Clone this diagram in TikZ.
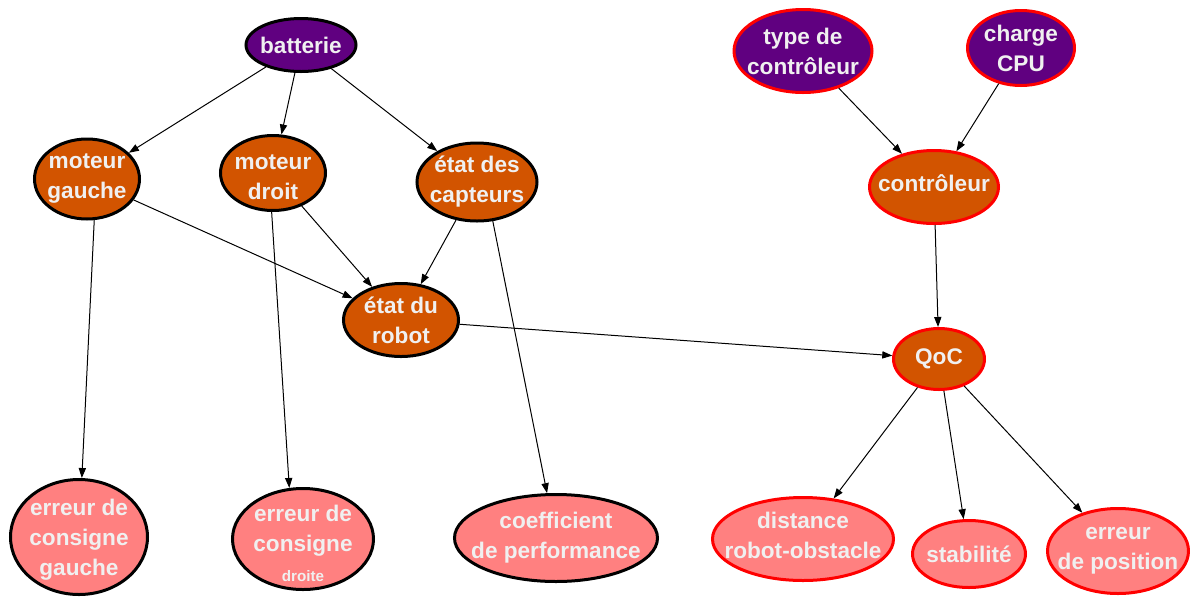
\documentclass[tikz,border=0pt]{standalone}
\usepackage{fontspec}
\setsansfont{Liberation Sans}
\usepackage{tikz}
\usetikzlibrary{%
	arrows.meta,%
	shapes.geometric,%
}
\definecolor{cviolet}{RGB}{96, 0, 128}
\definecolor{corange}{RGB}{210, 84, 0}
\definecolor{crose}{RGB}{255, 128, 128}
\definecolor{ctexte}{RGB}{240, 240, 240}
\tikzset{
	>={Triangle[length=5pt, width=3.6pt]},%
	bulle/.style={%
			ellipse,%
			draw,%
			line width=1.5pt,%
			inner sep=0pt},%
	racine/.style={bulle, fill=cviolet},%
	inter/.style={bulle, fill=corange},%
	feuille/.style={bulle, fill=crose},%
	rouge/.style={draw=red},%
	txt/.style={%
			text=ctexte,%
			align=center,%
			inner sep=0pt,%
			font={\sffamily\bfseries\fontsize{11.3}{15}\selectfont}},%
	lien/.style={->, line width=0.5pt},%
}
\newcommand{\petit}[1]{{\fontsize{7.6}{9}\selectfont #1}}

\begin{document}
\begin{tikzpicture}[x=0.5pt, y=-0.5pt]
	\useasboundingbox (0,0) rectangle (1190,596);

	% sources
	\node[racine, minimum width=55pt, minimum height=26.5pt, label={[txt]center:batterie}] (bat) at (301,45) {};
	\node[racine, rouge, minimum width=69pt, minimum height=41.5pt, label={[txt]center:{type de\\contrôleur}}] (type) at (803,51) {};
	\node[racine, rouge, minimum width=53.5pt, minimum height=37.5pt, label={[txt]center:{charge\\CPU}}] (cpu) at (1021,48) {};

	% noeuds intermediaires
	\node[inter, minimum width=52.5pt, minimum height=40pt, label={[txt]center:{moteur\\gauche}}] (mg) at (87,179) {};
	\node[inter, minimum width=52.5pt, minimum height=37.5pt, label={[txt, yshift=-2pt]center:{moteur\\droit}}] (md) at (273,173) {};
	\node[inter, minimum width=60pt, minimum height=39pt, label={[txt]center:{état des\\capteurs}}] (capt) at (477,182) {};
	\node[inter, minimum width=57.5pt, minimum height=36.5pt, label={[txt]center:{état du\\robot}}] (robot) at (401,320) {};
	\node[inter, rouge, minimum width=64.5pt, minimum height=36.5pt, label={[txt, yshift=2pt]center:contrôleur}] (ctrl) at (934,187) {};
	\node[inter, rouge, minimum width=45.5pt, minimum height=30.5pt, label={[txt]center:QoC}] (qoc) at (939,359) {};

	% feuilles
	\node[feuille, minimum width=68.5pt, minimum height=57.5pt, label={[txt, yshift=-1.5pt]center:{erreur de\\consigne\\gauche}}] (ecg) at (79,537) {};
	\node[feuille, minimum width=70.5pt, minimum height=50.5pt, label={[txt, yshift=-2pt]center:{erreur de\\consigne\\\petit{droite}}}] (ecd) at (303,539) {};
	\node[feuille, minimum width=101.5pt, minimum height=43.5pt, label={[txt]center:{coefficient\\de performance}}] (coef) at (556,538) {};
	\node[feuille, rouge, minimum width=90.5pt, minimum height=41.5pt, label={[txt, yshift=2pt]center:{distance\\robot-obstacle}}] (dist) at (803,539) {};
	\node[feuille, rouge, minimum width=56.5pt, minimum height=33.5pt, label={[txt]center:stabilité}] (stab) at (969,554) {};
	\node[feuille, rouge, minimum width=70.5pt, minimum height=42.5pt, label={[txt]center:{erreur\\de position}}] (pos) at (1118,551) {};

	\draw[lien] (bat) to (mg);
	\draw[lien] (bat) to (md);
	\draw[lien] (bat) to (capt);
	\draw[lien] (mg) to (robot);
	\draw[lien] (md) to (robot);
	\draw[lien] (capt) to (robot);
	\draw[lien] (mg.-80) to (ecg);
	\draw[lien] (md.-92) to (ecd.105);
	\draw[lien] (capt.-68) to (coef);
	\draw[lien] (robot) to (qoc);
	\draw[lien] (type) to (ctrl);
	\draw[lien] (cpu) to (ctrl);
	\draw[lien] (ctrl) to (qoc);
	\draw[lien] (qoc) to (dist);
	\draw[lien] (qoc) to (stab);
	\draw[lien] (qoc) to (pos);
\end{tikzpicture}
\end{document}
